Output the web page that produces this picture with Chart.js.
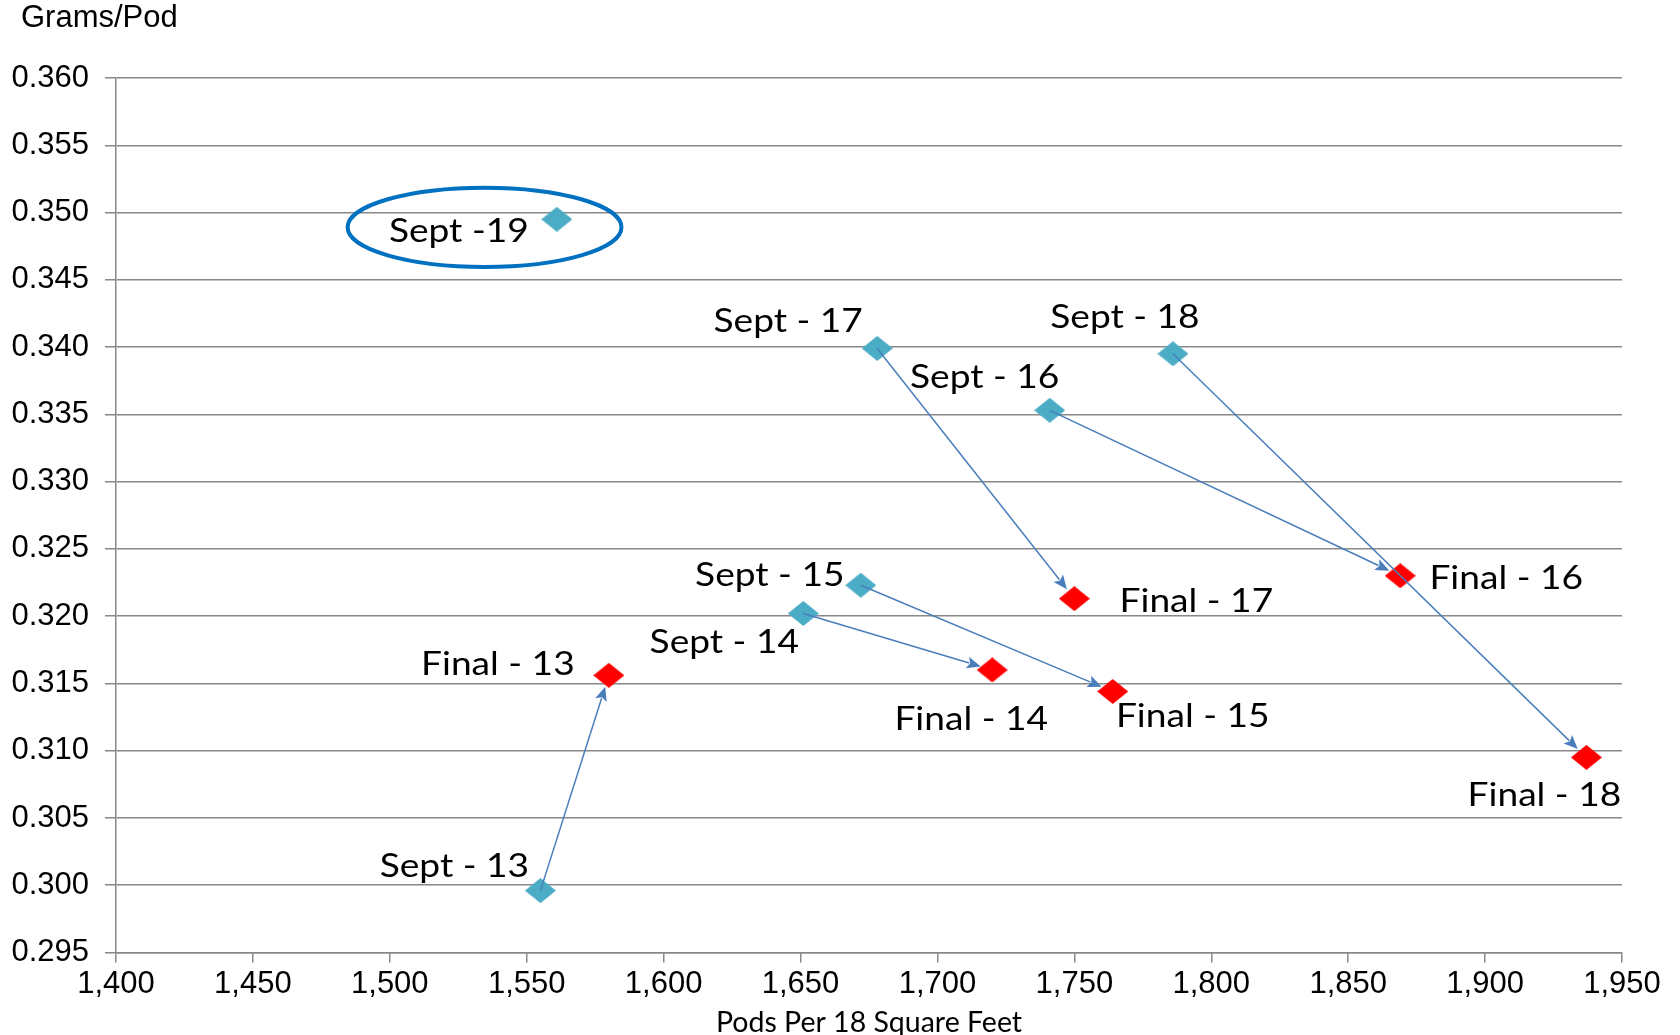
<!DOCTYPE html>
<html>
<head>
<meta charset="utf-8">
<script src="https://cdn.jsdelivr.net/npm/chart.js@4.4.1/dist/chart.umd.min.js"></script>
<style>
  html, body { margin: 0; padding: 0; background: #ffffff; }
  #wrap { width: 1680px; height: 1035px; }
</style>
</head>
<body>
<div id="wrap"><canvas id="c" width="1680" height="1035"></canvas></div>
<script>
// Pods per 18 sq ft vs grams per pod, September estimate and final, by season
const septPods   = [1555, 1651, 1672, 1741, 1678, 1786, 1561];
const septGrams  = [0.2996, 0.3202, 0.3223, 0.3353, 0.3399, 0.3395, 0.3495];
const septLabels = ['Sept - 13', 'Sept - 14', 'Sept - 15', 'Sept - 16', 'Sept - 17', 'Sept - 18', 'Sept -19'];

const finalPods   = [1580, 1720, 1764, 1869, 1750, 1937];
const finalGrams  = [0.3156, 0.3160, 0.3144, 0.3230, 0.3213, 0.3095];
const finalLabels = ['Final - 13', 'Final - 14', 'Final - 15', 'Final - 16', 'Final - 17', 'Final - 18'];

const xTickValues = [1400, 1450, 1500, 1550, 1600, 1650, 1700, 1750, 1800, 1850, 1900, 1950];
const yTickValues = [0.295, 0.300, 0.305, 0.310, 0.315, 0.320, 0.325, 0.330, 0.335, 0.340, 0.345, 0.350, 0.355, 0.360];

// Highlight ring around the current season (data units)
const ringCenter = { x: 1534.6, y: 0.3489 };
const ringRadius = { x: 50, y: 0.00295 };

// Label placement relative to each marker, in pixels
const septLabelOffsets  = [[-86, -24], [-79, 29], [-91, -10], [-65, -33], [-89, -27], [-48, -36], [-98, 12]];
const finalLabelOffsets = [[-111, -11], [-21, 50], [80, 25], [106, 3], [122, 3], [-42, 38]];

const GRID = '#888888';
const ARROW = '#4A7EBB';

// Diamond marker, slightly wider than tall
function diamond(color, w, h) {
  const cv = document.createElement('canvas');
  cv.width = w; cv.height = h;
  const g = cv.getContext('2d');
  g.fillStyle = color;
  g.beginPath();
  g.moveTo(w / 2, 0);
  g.lineTo(w, h / 2);
  g.lineTo(w / 2, h);
  g.lineTo(0, h / 2);
  g.closePath();
  g.fill();
  return cv;
}

const annotationPlugin = {
  id: 'annotations',
  afterDatasetsDraw(chart) {
    const ctx = chart.ctx;
    const xs = chart.scales.x, ys = chart.scales.y;

    // arrows from September estimate to final
    ctx.save();
    ctx.strokeStyle = ARROW;
    ctx.fillStyle = ARROW;
    ctx.lineWidth = 1.5;
    for (let i = 0; i < finalPods.length; i++) {
      const x0 = xs.getPixelForValue(septPods[i]), y0 = ys.getPixelForValue(septGrams[i]);
      const x1 = xs.getPixelForValue(finalPods[i]), y1 = ys.getPixelForValue(finalGrams[i]);
      const dx = x1 - x0, dy = y1 - y0, len = Math.hypot(dx, dy);
      const ux = dx / len, uy = dy / len;
      const tipX = x1 - ux * 12, tipY = y1 - uy * 12;
      const headLen = 14, headHalf = 6;
      const baseX = tipX - ux * headLen, baseY = tipY - uy * headLen;
      ctx.beginPath();
      ctx.moveTo(x0, y0);
      ctx.lineTo(baseX + ux * 2, baseY + uy * 2);
      ctx.stroke();
      ctx.beginPath();
      ctx.moveTo(tipX, tipY);
      ctx.lineTo(baseX - uy * headHalf, baseY + ux * headHalf);
      ctx.lineTo(baseX + ux * 3, baseY + uy * 3);
      ctx.lineTo(baseX + uy * headHalf, baseY - ux * headHalf);
      ctx.closePath();
      ctx.fill();
    }
    ctx.restore();

    // point labels, set in a slightly widened face
    const drawLabel = (text, x, y) => {
      ctx.save();
      ctx.translate(x, y);
      ctx.scale(1.16, 1);
      ctx.fillText(text, 0, 0);
      ctx.restore();
    };
    ctx.save();
    ctx.fillStyle = '#000000';
    ctx.font = '32px Lato';
    ctx.textAlign = 'center';
    ctx.textBaseline = 'middle';
    septPods.forEach((p, i) => {
      drawLabel(septLabels[i],
        xs.getPixelForValue(p) + septLabelOffsets[i][0],
        ys.getPixelForValue(septGrams[i]) + septLabelOffsets[i][1]);
    });
    finalPods.forEach((p, i) => {
      drawLabel(finalLabels[i],
        xs.getPixelForValue(p) + finalLabelOffsets[i][0],
        ys.getPixelForValue(finalGrams[i]) + finalLabelOffsets[i][1]);
    });
    ctx.restore();

    // highlight ring
    ctx.save();
    const cx = xs.getPixelForValue(ringCenter.x), cy = ys.getPixelForValue(ringCenter.y);
    const rx = Math.abs(xs.getPixelForValue(ringCenter.x + ringRadius.x) - cx);
    const ry = Math.abs(ys.getPixelForValue(ringCenter.y + ringRadius.y) - cy);
    ctx.strokeStyle = '#0070C0';
    ctx.lineWidth = 4;
    ctx.beginPath();
    ctx.ellipse(cx, cy, rx, ry, 0, 0, Math.PI * 2);
    ctx.stroke();
    ctx.restore();

    // y-axis caption
    ctx.save();
    ctx.fillStyle = '#000000';
    ctx.font = '31px "Liberation Sans"';
    ctx.textAlign = 'left';
    ctx.textBaseline = 'middle';
    ctx.fillText('Grams/Pod', 21, 18);
    ctx.restore();
  }
};

function draw() {
  new Chart(document.getElementById('c'), {
    type: 'scatter',
    data: {
      datasets: [
        {
          label: 'September',
          data: septPods.map((x, i) => ({ x: x, y: septGrams[i] })),
          pointStyle: diamond('#4BACC6', 31, 25),
          backgroundColor: '#4BACC6'
        },
        {
          label: 'Final',
          data: finalPods.map((x, i) => ({ x: x, y: finalGrams[i] })),
          pointStyle: diamond('#FF0000', 31, 25),
          backgroundColor: '#FF0000'
        }
      ]
    },
    options: {
      responsive: false,
      animation: false,
      layout: { padding: { left: 0, top: 78, right: 58, bottom: 0 } },
      plugins: { legend: { display: false }, tooltip: { enabled: false }, title: { display: false } },
      scales: {
        x: {
          type: 'linear',
          min: 1400,
          max: 1950,
          afterBuildTicks: s => { s.ticks = xTickValues.map(v => ({ value: v })); },
          afterFit: s => { s.height = 82.5; },
          grid: { drawOnChartArea: false, drawTicks: true, tickLength: 10, color: GRID, lineWidth: 1.5 },
          border: { color: GRID, width: 1.5 },
          ticks: {
            font: { family: 'Liberation Sans', size: 31 },
            color: '#000000',
            padding: 3,
            maxRotation: 0,
            autoSkip: false,
            callback: v => Number(v).toLocaleString('en-US')
          },
          title: {
            display: true,
            text: 'Pods Per 18 Square Feet',
            font: { family: 'Lato', size: 28.5, lineHeight: 0.85 },
            color: '#000000',
            padding: { top: 0, bottom: 0 }
          }
        },
        y: {
          type: 'linear',
          min: 0.295,
          max: 0.360,
          afterBuildTicks: s => { s.ticks = yTickValues.map(v => ({ value: v })); },
          afterFit: s => { s.width = 116; },
          grid: { drawTicks: true, tickLength: 11, color: GRID, lineWidth: 1.5 },
          border: { color: GRID, width: 1.5 },
          ticks: {
            font: { family: 'Liberation Sans', size: 31 },
            color: '#000000',
            padding: 16,
            autoSkip: false,
            callback: v => Number(v).toFixed(3)
          }
        }
      }
    },
    plugins: [annotationPlugin]
  });
}

const fontLoads = ['32px Lato', '28px Lato', '31px "Liberation Sans"'].map(f => document.fonts.load(f));
Promise.all(fontLoads).then(draw, draw);
</script>
</body>
</html>
